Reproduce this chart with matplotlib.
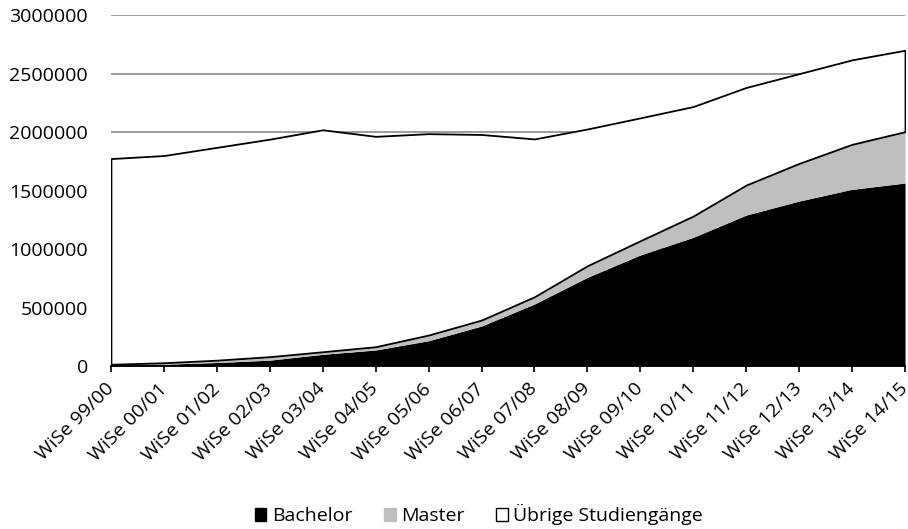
import matplotlib.pyplot as plt
import numpy as np
from matplotlib.patches import Patch

semester = ['WiSe 99/00', 'WiSe 00/01', 'WiSe 01/02', 'WiSe 02/03', 'WiSe 03/04',
            'WiSe 04/05', 'WiSe 05/06', 'WiSe 06/07', 'WiSe 07/08', 'WiSe 08/09',
            'WiSe 09/10', 'WiSe 10/11', 'WiSe 11/12', 'WiSe 12/13', 'WiSe 13/14',
            'WiSe 14/15']
# gesamt, Bachelor, Master
gesamt = [1773000, 1799000, 1869000, 1939000, 2019000, 1963000, 1986000, 1979000,
          1941000, 2026000, 2121000, 2218000, 2381000, 2499000, 2617000, 2699000]
bachelor = [5000, 15000, 30000, 50000, 100000, 137000, 216000, 342000,
            530000, 758000, 949000, 1100000, 1290000, 1410000, 1510000, 1564000]
master = [10000, 13000, 20000, 30000, 22000, 28000, 49000, 51000,
          62000, 99000, 122000, 182000, 257000, 322000, 385000, 439000]

plt.rcParams['font.family'] = ['Open Sans', 'DejaVu Sans']

x = np.arange(len(semester))
bachelor = np.array(bachelor)
master = np.array(master)
gesamt = np.array(gesamt)
bm = bachelor + master

fig = plt.figure(figsize=(9.08, 5.29), dpi=100)
ax = fig.add_axes([0.1222, 0.3081, 0.8745, 0.6635])

# Gitterlinien hinter den Flaechen
for v in np.arange(500000, 3000001, 500000):
    ax.axhline(v, color='#8a8a8a', lw=1.2, zorder=0)

ax.fill_between(x, 0, bachelor, color='black', lw=0, zorder=2)
ax.fill_between(x, bachelor, bm, color='#bfbfbf', lw=0, zorder=2)
ax.fill_between(x, bm, gesamt, facecolor='white', edgecolor='black', lw=1.3, zorder=3)

ax.set_xlim(0, len(semester) - 1)
ax.set_ylim(0, 3000000)
yt = np.arange(0, 3000001, 500000)
ax.set_yticks(yt)
ax.set_yticklabels(['%d' % v for v in yt], fontsize=14)
ax.set_xticks(x)
ax.set_xticklabels(semester, rotation=45, ha='right', va='center',
                   rotation_mode='anchor', fontsize=14)
ax.tick_params(axis='y', length=0, pad=16.5)
ax.tick_params(axis='x', length=4.5, width=1.2, direction='out', pad=10)
for s in ['top', 'right', 'left']:
    ax.spines[s].set_visible(False)
ax.spines['bottom'].set_linewidth(1.3)
ax.spines['bottom'].set_zorder(4)

handles = [Patch(facecolor='black', edgecolor='black', label='Bachelor'),
           Patch(facecolor='#bfbfbf', edgecolor='#bfbfbf', label='Master'),
           Patch(facecolor='white', edgecolor='black', label='Übrige Studiengänge')]
fig.legend(handles=handles, loc='center', bbox_to_anchor=(0.5275, 0.027), ncol=3,
           frameon=False, fontsize=14, handlelength=0.6, handleheight=0.6,
           handletextpad=0.3, columnspacing=1.6, borderpad=0)

fig.savefig('out.png', dpi=100)
